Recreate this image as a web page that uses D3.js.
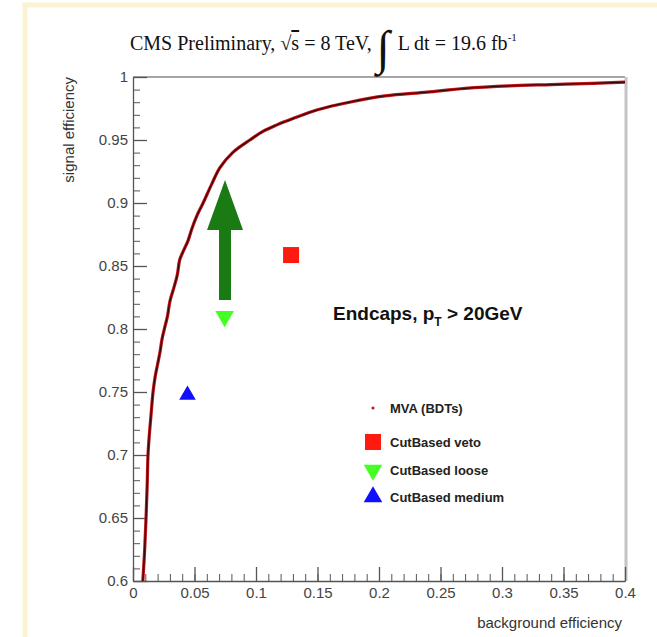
<!DOCTYPE html>
<html>
<head>
<meta charset="utf-8">
<script src="https://cdn.jsdelivr.net/npm/d3@7"></script>
<style>
  body { margin: 0; background: #fff; }
  svg text { font-family: "Liberation Sans", Arial, sans-serif; }
</style>
</head>
<body>
<svg id="chart" width="657" height="637"></svg>
<script>
// ROC curve
const bkgEff = [0.008, 0.0095, 0.0106, 0.0115, 0.0122, 0.0132, 0.0145, 0.0163, 0.018, 0.020,
                0.022, 0.0236, 0.026, 0.028, 0.030, 0.033, 0.036, 0.038, 0.041, 0.0447,
                0.048, 0.052, 0.057, 0.064, 0.0707, 0.081, 0.095, 0.106, 0.117, 0.130,
                0.150, 0.176, 0.205, 0.239, 0.270, 0.306, 0.340, 0.374, 0.400];
const sigEff = [0.600, 0.625, 0.650, 0.675, 0.700, 0.715, 0.730, 0.750, 0.762, 0.772,
                0.782, 0.792, 0.802, 0.810, 0.822, 0.832, 0.843, 0.855, 0.862, 0.870,
                0.880, 0.890, 0.900, 0.915, 0.928, 0.940, 0.950, 0.957, 0.962, 0.967,
                0.974, 0.980, 0.985, 0.988, 0.991, 0.993, 0.994, 0.995, 0.996];

// cut based working points
const wpNames = ["CutBased veto", "CutBased loose", "CutBased medium"];
const wpBkg = [0.1285, 0.0745, 0.0443];
const wpSig = [0.8587, 0.810, 0.7476];

// arrow from loose point up to the curve
const arrowBkg = [0.0748, 0.0748];
const arrowSig = [0.823, 0.9183];

const legendNames = ["MVA (BDTs)"].concat(wpNames);

const xTicks = [0, 0.05, 0.1, 0.15, 0.2, 0.25, 0.3, 0.35, 0.4];
const yTicks = [0.6, 0.65, 0.7, 0.75, 0.8, 0.85, 0.9, 0.95, 1];

const svg = d3.select("#chart");
const P = {left: 133, right: 625, top: 77, bottom: 581};

// faint yellow frame of the slide
svg.append("path")
    .attr("d", "M25,637 V5 H657")
    .attr("fill", "none")
    .attr("stroke", "#fbf3d2")
    .attr("stroke-width", 5);

const x = d3.scaleLinear().domain([0, 0.4]).range([P.left, P.right]);
const y = d3.scaleLinear().domain([0.6, 1]).range([P.bottom, P.top]);

// frame: top and right
svg.append("line")
    .attr("x1", P.left).attr("x2", P.right)
    .attr("y1", P.top).attr("y2", P.top)
    .attr("stroke", "#888").attr("stroke-width", 1.5);
svg.append("line")
    .attr("x1", P.right + 1).attr("x2", P.right + 1)
    .attr("y1", P.top).attr("y2", P.bottom)
    .attr("stroke", "#c4c4c4").attr("stroke-width", 3);

const minorX = d3.range(0, 41).map(d => d / 100);
const minorY = d3.range(60, 101).map(d => d / 100);

// minor ticks
svg.append("g")
    .attr("transform", `translate(0,${P.bottom})`)
    .call(d3.axisBottom(x).tickValues(minorX).tickSize(-7).tickSizeOuter(0).tickFormat(""))
    .call(g => g.selectAll("line,path").attr("stroke", "#555"));
svg.append("g")
    .attr("transform", `translate(${P.left},0)`)
    .call(d3.axisLeft(y).tickValues(minorY).tickSize(-7).tickSizeOuter(0).tickFormat(""))
    .call(g => g.selectAll("line,path").attr("stroke", "#555"));

// major ticks + labels
const gx = svg.append("g")
    .attr("transform", `translate(0,${P.bottom})`)
    .call(d3.axisBottom(x).tickValues(xTicks).tickSize(-14).tickSizeOuter(0)
          .tickPadding(6).tickFormat(d3.format("")));
gx.selectAll("line,path").attr("stroke", "#555").attr("stroke-width", 1.3);
gx.selectAll("text").attr("font-size", 15).attr("fill", "#444")
    .attr("font-family", "Liberation Sans, Arial, sans-serif");

const gy = svg.append("g")
    .attr("transform", `translate(${P.left},0)`)
    .call(d3.axisLeft(y).tickValues(yTicks).tickSize(-14).tickSizeOuter(0)
          .tickPadding(5).tickFormat(d3.format("")));
gy.selectAll("line,path").attr("stroke", "#555").attr("stroke-width", 1.3);
gy.selectAll("text").attr("font-size", 15).attr("fill", "#444")
    .attr("font-family", "Liberation Sans, Arial, sans-serif");

// axis titles
svg.append("text")
    .attr("x", 622).attr("y", 628)
    .attr("text-anchor", "end")
    .attr("font-size", 15).attr("fill", "#333")
    .text("background efficiency");
svg.append("text")
    .attr("transform", `translate(74,${P.top}) rotate(-90)`)
    .attr("text-anchor", "end")
    .attr("font-size", 15).attr("fill", "#333")
    .text("signal efficiency");

// ROC curve
const rocLine = d3.line().x(d => x(d[0])).y(d => y(d[1])).curve(d3.curveCatmullRom);
const roc = d3.zip(bkgEff, sigEff);
svg.append("path").datum(roc)
    .attr("d", rocLine)
    .attr("fill", "none").attr("stroke", "#c0141b").attr("stroke-width", 3.2)
    .attr("stroke-linejoin", "round");
svg.append("path").datum(roc)
    .attr("d", rocLine)
    .attr("fill", "none").attr("stroke", "#3a0606").attr("stroke-width", 1.3)
    .attr("stroke-linejoin", "round");

// arrow
const ax = x(arrowBkg[0]);
const ay0 = y(arrowSig[0]);
const ay1 = y(arrowSig[1]);
const headLen = 50, headW = 36, shaftW = 12;
svg.append("path")
    .attr("d", `M${ax - shaftW / 2},${ay0} V${ay1 + headLen} H${ax - headW / 2} L${ax},${ay1}
                L${ax + headW / 2},${ay1 + headLen} H${ax + shaftW / 2} V${ay0} Z`)
    .attr("fill", "#1a7a14");

// markers
const wpColor = ["#ff1a10", "#44ff22", "#1010ff"];
const wpSymbol = [d3.symbolSquare, d3.symbolTriangle, d3.symbolTriangle];
const wpRot = [0, 180, 0];
const wpSize = [256, 150, 120];

svg.selectAll(".wp")
    .data(wpNames)
    .join("path")
    .attr("class", "wp")
    .attr("d", (d, i) => d3.symbol().type(wpSymbol[i]).size(wpSize[i])())
    .attr("transform", (d, i) => `translate(${x(wpBkg[i])},${y(wpSig[i])}) rotate(${wpRot[i]})`)
    .attr("fill", (d, i) => wpColor[i]);

// label
const lab = svg.append("text")
    .attr("x", 333).attr("y", 320)
    .attr("font-size", 19).attr("font-weight", "bold").attr("fill", "#111");
lab.append("tspan").text("Endcaps, p");
lab.append("tspan").attr("font-size", 12).attr("dy", 6).text("T");
lab.append("tspan").attr("dy", -6).text(" > 20GeV");

// legend
const legY = [408, 442, 470, 497];
const leg = svg.selectAll(".leg")
    .data(legendNames)
    .join("g")
    .attr("class", "leg")
    .attr("transform", (d, i) => `translate(373,${legY[i]})`);
leg.append("path")
    .attr("d", (d, i) => i === 0
        ? d3.symbol().type(d3.symbolCircle).size(8)()
        : d3.symbol().type(wpSymbol[i - 1]).size(i === 1 ? 256 : 150)())
    .attr("transform", (d, i) => i === 2 ? "rotate(180)" : "")
    .attr("fill", (d, i) => i === 0 ? "#d01818" : wpColor[i - 1]);
leg.append("text")
    .attr("x", 17).attr("dy", "0.35em")
    .attr("font-size", 13).attr("font-weight", "bold").attr("fill", "#222")
    .text(d => d);

// title
const title = svg.append("text")
    .attr("y", 50)
    .style("font-family", "Liberation Serif, Times New Roman, serif")
    .attr("font-size", 20).attr("fill", "#111");
title.append("tspan").attr("x", 130).text("CMS Preliminary, ");
title.append("tspan").text("\u221A");
title.append("tspan").attr("text-decoration", "overline").text("s");
title.append("tspan").text(" = 8 TeV, ");
const tBox = title.node().getBBox();
svg.append("text")
    .attr("x", tBox.x + tBox.width + 5).attr("y", 64)
    .style("font-family", "Liberation Serif, Times New Roman, serif")
    .attr("font-size", 48).attr("fill", "#111")
    .text("\u222B");
const title2 = svg.append("text")
    .attr("x", tBox.x + tBox.width + 26).attr("y", 50)
    .style("font-family", "Liberation Serif, Times New Roman, serif")
    .attr("font-size", 20).attr("fill", "#111");
title2.append("tspan").text("L dt = 19.6 fb");
title2.append("tspan").attr("font-size", 11).attr("dy", -9).text("-1");
</script>
</body>
</html>
